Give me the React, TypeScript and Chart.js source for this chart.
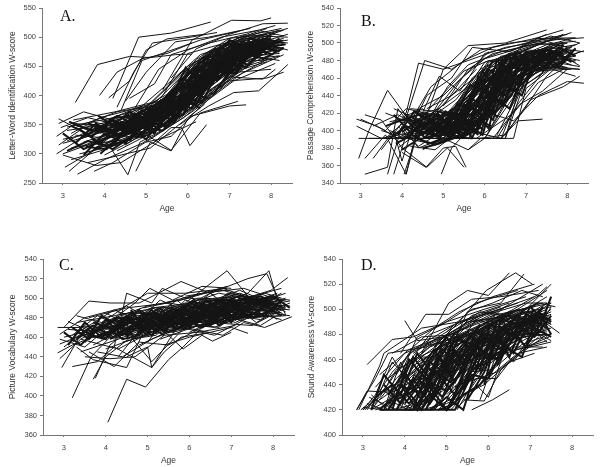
import React, { useEffect, useRef } from "react";
import { Chart, registerables } from "chart.js";

Chart.register(...registerables);

// each row is one child: age, score, age, score, ...
const letterWord: number[][] = [
  [3.3,388,3.83,453,4.6,467,5.1,465,5.7,470,6.1,471],
  [4.2,395,4.82,500,5.6,507,6.0,515,6.55,526],
  [3.88,400,4.3,440,4.9,463,5.5,472,6.1,490],
  [4.1,396,4.6,425,5.0,478,5.5,497,6.4,505],
  [4.3,380,4.7,440,5.15,490,5.9,498,6.7,508],
  [4.15,310,4.56,264,4.85,320,5.5,345,6.2,400],
  [4.75,270,5.1,320,5.6,305,6.0,360,6.9,420],
  [5.2,320,5.6,345,5.85,345,6.05,314,6.45,350],
  [5.0,320,5.6,330,6.1,365,7.0,382,7.4,384],
  [5.8,350,6.5,382,7.1,405,7.7,408,8.4,453],
  [5.4,410,6.1,495,7.05,529,7.75,528,8.0,533],
  [5.6,430,6.2,480,7.0,505,7.8,523,8.4,524],
  [2.85,300,3.4,325,4.0,340,4.9,352,5.8,385,6.8,440],
  [2.9,315,3.5,345,4.4,360,5.4,378,6.3,430,7.3,478],
  [2.85,330,3.3,352,4.2,345,5.2,368,6.2,440,7.2,488],
  [2.9,352,3.5,372,4.1,360,5.0,380,6.0,450,7.0,490],
  [2.9,360,3.3,345,4.3,372,5.3,385,6.3,462,7.3,498],
  [3.0,300,3.7,318,4.7,345,5.7,378,6.7,440,7.7,478],
  [3.05,277,3.6,300,4.5,335,5.5,362,6.5,420,7.5,462],
  [3.15,270,3.8,310,4.8,340,5.8,372,6.8,430,7.8,470],
  [3.35,265,4.0,290,4.9,318,5.9,362,6.9,422,7.9,462],
  [3.0,325,3.9,338,4.9,362,5.9,398,6.9,462,7.9,490],
  [3.1,340,4.0,350,5.0,375,6.0,425,7.0,478,8.0,500],
  [3.2,310,4.2,322,5.2,352,6.2,396,7.2,452,8.2,482],
  [3.25,358,4.25,372,5.25,390,6.25,462,7.25,500,8.25,515],
  [3.4,300,4.3,315,5.3,345,6.3,385,7.3,438,8.3,470],
  [3.5,320,4.4,342,5.4,360,6.4,418,7.4,472,8.3,495],
  [3.0,318,3.6,330,4.6,350,5.6,388,6.6,455,7.6,492],
  [3.1,346,3.7,355,4.6,366,5.5,402,6.5,470,7.5,505],
  [3.3,332,3.9,328,4.8,358,5.7,395,6.7,458,7.6,488],
  [3.2,290,3.9,305,4.8,332,5.8,385,6.8,445,7.8,482],
  [3.6,340,4.5,355,5.5,385,6.5,442,7.5,482,8.2,490],
  [3.7,305,4.6,330,5.6,352,6.6,408,7.6,458,8.3,480],
  [3.75,270,4.2,285,5.1,325,6.1,372,7.1,425,8.1,455],
  [3.8,325,4.7,348,5.7,392,6.7,462,7.7,490,8.4,505],
  [3.9,345,4.8,362,5.8,412,6.8,472,7.8,500,8.3,512],
  [4.0,355,4.9,372,5.9,440,6.9,490,7.9,515],
  [4.0,298,5.0,335,6.0,375,7.0,425,7.9,430,8.3,440],
  [4.1,328,5.1,356,6.1,405,7.1,460,8.1,485],
  [4.2,340,5.2,365,6.2,425,7.2,472,8.2,488],
  [4.3,305,5.3,342,6.3,398,7.3,448,8.2,468],
  [4.4,350,5.4,385,6.4,452,7.4,495,8.4,515],
  [4.5,315,5.5,362,6.5,422,7.5,470,8.1,478],
  [4.5,360,5.5,395,6.5,475,7.5,508,8.1,520],
  [4.6,330,5.6,375,6.6,440,7.6,480,8.2,492],
  [4.7,345,5.7,405,6.7,470,7.7,495,8.0,498],
  [4.7,375,5.3,445,6.0,478,6.8,500,7.7,512],
  [4.4,375,4.9,460,5.5,475,6.3,495,7.2,510],
  [4.5,390,5.0,440,5.7,492,6.5,500,7.5,515],
  [4.6,395,5.2,420,5.6,470,6.4,488,7.4,505],
  [4.8,365,5.4,400,6.0,472,6.9,490,7.9,505],
  [4.9,352,5.5,390,6.2,455,7.2,485,8.0,495],
  [5.0,345,5.8,385,6.5,445,7.3,478,8.0,482],
  [5.1,360,5.9,420,6.6,478,7.4,498,8.4,490],
  [5.2,372,6.0,435,6.7,485,7.5,492,8.3,490],
  [5.3,352,6.1,392,7.0,470,7.9,480],
  [5.4,382,6.2,462,7.0,498,7.9,505],
  [5.5,360,6.3,412,7.1,478,8.0,494],
  [5.5,345,6.4,392,7.2,440,8.0,445],
  [5.6,378,6.5,450,7.2,490,8.1,475],
  [5.7,365,6.6,428,7.4,462,8.2,468],
  [5.8,392,6.7,475,7.5,500,8.2,512],
  [5.9,380,6.7,440,7.6,478,8.3,482],
  [6.0,395,6.8,458,7.6,490,8.3,480],
  [6.1,412,6.9,480,7.7,502,8.4,500],
  [6.2,382,7.0,432,7.8,428,8.1,445],
  [6.3,420,7.1,470,7.8,488],
  [6.4,438,7.2,488,7.9,498],
  [3.0,298,3.8,280,4.4,285,5.3,325,6.2,355],
  [3.6,285,4.4,298,5.1,310,5.7,345,6.4,385],
  [3.4,312,4.1,330,4.8,342,5.6,306,6.3,370,7.2,390],
  [2.95,345,3.6,362,4.3,350,5.0,352,5.7,395,6.6,450],
  [3.1,322,3.8,345,4.4,340,5.2,362,5.9,420,6.8,468],
  [3.3,350,4.0,335,4.7,355,5.4,372,6.2,415,7.1,458],
  [3.5,330,4.2,352,4.9,348,5.6,368,6.4,440,7.3,485],
  [3.7,355,4.4,345,5.1,370,5.8,405,6.6,465,7.5,480],
  [3.8,312,4.5,322,5.2,362,5.9,388,6.7,448,7.6,470],
  [3.9,335,4.6,362,5.3,378,6.0,442,6.8,478,7.7,494],
  [3.6,300,4.2,332,4.9,328,5.7,358,6.5,405,7.4,452],
  [3.2,335,3.9,362,4.6,375,5.4,392,6.1,455,7.0,482],
  [4.0,318,4.7,340,5.4,355,6.1,398,6.9,452,7.8,478],
  [4.2,362,4.9,382,5.6,425,6.3,470,7.2,492,8.1,505],
  [4.1,345,4.8,378,5.5,372,6.2,432,7.0,462,7.9,485],
  [4.3,332,5.0,350,5.7,382,6.4,435,7.3,468,8.2,472],
  [4.4,322,5.1,345,5.8,402,6.5,458,7.4,482,8.3,498],
  [4.6,350,5.3,368,6.0,415,6.7,452,7.6,486,8.4,495],
  [4.8,338,5.5,378,6.2,408,6.9,468,7.8,478],
  [5.0,362,5.7,412,6.4,462,7.1,482,8.0,488],
  [5.2,340,5.9,402,6.6,435,7.3,458,8.1,462],
  [5.4,370,6.1,445,6.8,465,7.5,482,8.2,478],
  [5.6,395,6.3,442,7.0,485,7.7,492,8.4,478],
  [5.3,365,6.0,402,6.7,448,7.4,475,8.1,488],
  [5.1,350,5.8,378,6.5,432,7.2,465,7.9,470],
  [4.9,368,5.6,398,6.3,450,7.0,472,7.7,485],
  [5.7,405,6.4,470,7.1,492,7.8,510,8.3,502],
  [5.9,402,6.6,462,7.3,482,8.0,495],
  [6.0,375,6.6,412,7.3,445,7.9,458],
  [6.1,388,6.8,435,7.5,468,8.2,460],
  // second group: shorter, crossing rows
  [3.0,335,3.5,308,4.0,325,4.5,338,5.0,330],
  [3.1,305,3.6,322,4.1,312,4.6,348,5.1,342],
  [3.2,348,3.7,330,4.2,358,4.7,340,5.2,372],
  [3.3,318,3.8,352,4.3,328,4.8,365,5.3,355],
  [3.4,342,3.9,318,4.4,355,4.9,335,5.4,368],
  [3.5,298,4.0,335,4.5,318,5.0,358,5.5,345],
  [3.6,352,4.1,342,4.6,372,5.1,350,5.6,382],
  [3.7,325,4.2,308,4.7,332,5.2,338,5.7,368],
  [3.8,340,4.3,365,4.8,348,5.3,375,5.8,362],
  [3.9,300,4.4,332,4.9,345,5.4,340,5.9,378],
  [4.0,332,4.5,348,5.0,325,5.5,368,6.0,388],
  [4.1,360,4.6,338,5.1,378,5.6,358,6.1,395],
  [4.2,315,4.7,358,5.2,342,5.7,375,6.2,410],
  [4.3,348,4.8,328,5.3,365,5.8,395,6.3,378],
  [4.4,338,4.9,375,5.4,350,5.9,368,6.4,428],
  [4.5,365,5.0,345,5.5,382,6.0,405,6.5,395],
  [4.6,322,5.1,368,5.6,360,6.1,418,6.6,425],
  [4.7,352,5.2,335,5.7,398,6.2,385,6.7,442],
  [4.8,372,5.3,358,5.8,380,6.3,445,6.8,432],
  [4.9,335,5.4,378,5.9,392,6.4,408,6.9,458],
  [5.0,378,5.5,372,6.0,440,6.5,430,7.0,475],
  [5.1,342,5.6,392,6.1,378,6.6,452,7.1,445],
  [5.2,365,5.7,378,6.2,448,6.7,438,7.2,482],
  [5.3,385,5.8,420,6.3,402,6.8,482,7.3,462],
  [5.4,355,5.9,410,6.4,442,6.9,445,7.4,490],
  [5.5,392,6.0,385,6.5,462,7.0,455,7.5,472],
  [5.6,368,6.1,432,6.6,420,7.1,488,7.6,478],
  [5.7,385,6.2,402,6.7,478,7.2,462,7.7,498],
  [5.8,405,6.3,458,6.8,448,7.3,492,7.8,480],
  [5.9,372,6.4,425,6.9,472,7.4,478,7.9,492],
  [6.0,420,6.5,468,7.0,445,7.5,498,8.0,478],
  [6.1,395,6.6,448,7.1,492,7.6,468,8.1,492],
  [6.2,445,6.7,425,7.2,470,7.7,485,8.2,475],
  [6.3,405,6.8,465,7.3,458,7.8,498,8.3,490],
  [6.4,418,6.9,438,7.4,488,7.9,472],
  [6.5,455,7.0,495,7.5,478,8.0,505],
  [6.6,400,7.1,452,7.6,495,8.1,488],
  [6.7,472,7.2,458,7.7,472,8.2,498],
  [6.8,442,7.3,485,7.8,462,8.3,482],
  [6.9,462,7.4,448,7.9,490],
  [3.15,355,3.65,340,4.15,338,4.65,360,5.15,360],
  [3.45,328,3.95,348,4.45,330,4.95,355,5.45,350],
  [3.55,312,4.05,308,4.55,345,5.05,368,5.55,372],
  [3.75,345,4.25,335,4.75,368,5.25,345,5.75,390],
  [3.85,365,4.35,342,4.85,358,5.35,392,5.85,372],
  [4.05,310,4.55,325,5.05,352,5.55,350,6.05,402],
  [4.25,348,4.75,355,5.25,372,5.75,412,6.25,418],
  [4.45,342,4.95,362,5.45,392,5.95,385,6.45,435],
  [4.65,362,5.15,382,5.65,370,6.15,440,6.65,462],
  [4.85,355,5.35,368,5.85,428,6.35,420,6.85,452],
  [5.05,348,5.55,385,6.05,395,6.55,472,7.05,462],
  [5.25,378,5.75,365,6.25,430,6.75,428,7.25,478],
  [5.45,372,5.95,448,6.45,412,6.95,478,7.45,468],
  [5.65,352,6.15,408,6.65,448,7.15,438,7.65,485],
  [5.85,398,6.35,388,6.85,462,7.35,472,7.85,488],
  [6.05,412,6.55,442,7.05,438,7.55,482,8.05,470],
  [6.25,392,6.75,455,7.25,488,7.75,478,8.25,495],
  [6.45,432,6.95,468,7.45,452,7.95,485],
  [6.65,458,7.15,442,7.65,490,8.15,482],
  [6.85,425,7.35,465,7.85,482,8.35,488],
];

const passage: number[][] = [
  [2.9,413,3.4,405,3.9,391,4.6,391,5.4,400,6.2,440],
  [2.9,405,3.5,391,4.4,400,5.4,391,6.2,420,6.9,460],
  [3.0,413,3.6,400,4.1,425,5.0,415,6.0,455,7.0,480],
  [2.95,368,3.2,400,3.65,446,4.2,410,4.8,420,5.8,470],
  [3.1,418,3.5,412,4.0,380,4.6,358,5.1,380,5.5,358],
  [3.1,350,3.65,358,3.9,425,4.3,400,5.2,420,6.1,480],
  [3.1,368,3.6,395,4.1,350,4.4,410,5.4,391,6.4,450],
  [2.95,391,3.5,391,4.2,391,5.0,391,6.0,391,6.7,391,7.0,448,8.0,485],
  [3.2,391,4.0,391,5.0,391,5.9,391,6.5,391,6.95,470,7.9,490],
  [3.4,391,4.3,391,5.2,391,6.3,391,6.8,430,7.6,478],
  [3.3,368,3.8,400,4.0,365,4.4,425,5.0,440,6.1,490],
  [3.65,350,4.0,405,4.4,380,5.0,391,5.9,430,6.9,482],
  [3.8,350,4.1,395,4.6,410,5.3,400,6.2,462,7.2,492],
  [4.05,350,4.4,400,5.0,391,5.6,378,6.0,391,6.7,445],
  [4.1,350,4.5,420,5.4,415,6.3,475,7.2,505,8.2,506],
  [4.0,375,4.58,358,5.0,380,5.3,382,5.55,358],
  [4.95,350,5.2,380,5.6,400,6.4,391,6.9,450,7.9,480],
  [4.1,420,4.4,477,5.0,470,5.6,497,6.5,500,7.5,515],
  [4.0,400,4.55,480,5.2,470,5.9,492,6.6,500,7.6,505],
  [4.2,410,4.7,450,5.5,480,6.2,495,7.2,505,7.9,515],
  [4.1,391,4.6,440,5.2,460,5.7,495,6.6,490,7.5,510],
  [4.3,400,4.9,462,5.4,445,6.0,488,7.0,500,8.0,510],
  [4.5,405,5.0,470,5.6,480,6.5,495,7.5,503,8.4,506],
  [4.4,391,5.1,450,5.6,475,6.4,490,7.3,500,8.1,495],
  [5.2,391,5.9,391,6.4,391,6.8,411,7.4,413],
  [5.5,391,6.1,420,6.7,411,7.3,440,8.0,456,8.4,454],
  [5.6,378,5.9,391,6.5,395,7.1,435,7.9,450,8.3,462],
  [3.6,391,4.3,420,5.0,415,5.8,442,6.6,470,7.6,490],
  [3.5,378,4.1,415,4.9,400,5.7,430,6.7,478,7.7,495],
  [3.8,425,4.5,410,5.3,391,6.1,450,7.1,480,8.1,490],
  [3.7,400,4.2,391,5.1,410,6.0,425,7.0,470,7.9,482],
  [3.9,380,4.6,405,5.6,420,6.6,465,7.5,478,8.4,491],
  [4.0,395,4.8,400,5.8,440,6.8,475,7.8,498],
  [4.1,412,5.0,405,6.0,470,7.0,485,8.0,500],
  [4.2,425,5.2,420,6.2,478,7.2,490,8.2,498],
  [4.3,408,5.3,410,6.3,452,7.3,475,8.3,470],
  [4.4,400,5.4,430,6.4,480,7.4,500,8.1,512],
  [4.5,391,5.5,420,6.5,472,7.5,488,8.3,480],
  [4.6,415,5.6,450,6.6,482,7.6,495,8.4,490],
  [4.7,398,5.7,405,6.7,458,7.7,478,8.3,473],
  [4.8,391,5.8,415,6.8,470,7.8,482],
  [4.9,410,5.9,462,6.9,490,7.9,510],
  [5.0,391,6.0,440,7.0,478,8.0,492],
  [5.1,400,6.1,430,7.1,468,8.1,470],
  [5.2,418,6.2,470,7.2,485,8.2,480],
  [5.3,391,6.3,425,7.3,472,8.3,470],
  [5.4,405,6.4,460,7.4,482,8.3,500],
  [5.5,415,6.5,478,7.5,498,8.0,500],
  [5.6,391,6.6,450,7.5,472,8.2,462],
  [5.7,410,6.7,472,7.6,490,8.0,480],
  [5.8,391,6.7,420,7.3,455,7.9,470],
  [5.9,425,6.8,480,7.7,500,8.1,505],
  [6.0,391,6.8,445,7.5,470,8.1,482],
  [6.1,400,6.9,465,7.8,490,8.2,492],
  [6.2,391,6.85,430,7.4,445,8.0,470],
  [6.3,395,6.95,455,7.7,485,8.2,478],
  [6.4,391,6.9,420,7.5,462,8.1,488],
  [6.5,391,7.0,460,7.8,478,8.3,490],
  [3.5,400,4.1,391,4.7,385,5.4,395,6.0,435,6.9,472],
  [3.9,405,4.4,382,5.0,400,5.7,410,6.3,470,7.1,482],
  [4.0,415,4.5,425,5.1,391,5.8,430,6.5,480,7.3,490],
  [4.2,382,4.8,378,5.4,400,6.1,445,6.7,482,7.5,495],
  [4.3,395,4.9,415,5.5,395,6.2,440,6.9,475,7.7,488],
  [4.4,422,5.0,410,5.6,435,6.3,462,7.0,488,7.9,500],
  [4.5,378,5.0,391,5.7,425,6.4,470,7.1,478,8.0,488],
  [4.6,425,5.2,440,5.8,462,6.5,485,7.3,498,8.2,502],
  [4.7,405,5.3,400,5.9,450,6.6,475,7.4,480,8.1,495],
  [4.8,422,5.4,458,6.0,482,6.7,492,7.6,508,8.3,500],
  [4.9,400,5.5,402,6.1,418,6.8,468,7.6,482],
  [5.0,428,5.6,470,6.2,488,6.9,495,7.8,505],
  [5.1,412,5.7,440,6.3,475,7.0,480,7.8,490],
  [5.3,400,5.9,455,6.5,462,7.2,480,8.0,472],
  [5.5,430,6.1,478,6.7,490,7.5,502,8.0,495],
  [5.7,400,6.3,442,6.9,472,7.7,492],
  [4.1,405,4.6,402,5.2,412,5.8,420,6.4,462,7.2,475],
  [4.3,415,4.8,405,5.4,420,6.0,462,6.7,478,7.5,485],
  [4.5,398,5.1,418,5.7,448,6.3,480,7.0,492,7.8,490],
  [3.7,410,4.2,415,4.9,425,5.6,405,6.3,445,7.1,470],
  [3.3,405,3.9,418,4.6,400,5.3,428,6.0,478,6.9,490],
  [3.6,420,4.4,405,5.2,402,5.9,410,6.6,440,7.4,472],
  [4.0,391,4.7,415,5.3,435,5.9,470,6.6,488,7.4,492],
  [4.2,400,4.8,432,5.5,468,6.1,480,6.9,482,7.7,498],
  [3.8,391,4.4,395,5.0,405,5.7,460,6.4,485,7.2,488],
  [4.6,391,5.2,398,5.8,402,6.4,435,7.0,470,7.8,472],
  [4.9,391,5.4,412,6.0,425,6.6,478,7.3,480,8.0,490],
  [5.2,405,5.8,400,6.4,480,7.1,485,7.9,478],
  [5.4,391,6.0,405,6.6,458,7.3,488,8.1,475],
  [5.6,420,6.2,458,6.8,462,7.6,480,8.2,485],
  [5.8,405,6.5,438,7.1,475,7.8,488,8.3,474],
  // second group: shorter, crossing rows
  [4.0,398,4.4,412,4.8,395,5.2,408,5.6,398],
  [4.05,420,4.45,400,4.85,418,5.25,395,5.65,425],
  [4.1,391,4.5,408,4.9,392,5.3,418,5.7,402],
  [4.15,410,4.55,392,4.95,410,5.35,400,5.75,440],
  [4.2,395,4.6,418,5.0,400,5.4,392,5.8,412],
  [4.25,415,4.65,398,5.05,422,5.45,410,5.85,395],
  [4.3,391,4.7,402,5.1,395,5.5,425,5.9,450],
  [4.35,408,4.75,420,5.15,405,5.55,395,5.95,420],
  [4.4,398,4.8,395,5.2,415,5.6,412,6.0,400],
  [4.45,418,4.85,408,5.25,398,5.65,438,6.05,462],
  [4.5,402,4.9,422,5.3,412,5.7,392,6.1,432],
  [4.55,391,4.95,398,5.35,425,5.75,415,6.15,405],
  [4.6,412,5.0,395,5.4,405,5.8,448,6.2,480],
  [4.65,400,5.05,412,5.45,392,5.85,402,6.25,442],
  [4.7,392,5.1,405,5.5,418,5.9,440,6.3,415],
  [4.75,410,5.15,392,5.55,408,5.95,395,6.35,460],
  [4.8,400,5.2,420,5.6,398,6.0,455,6.4,470],
  [4.85,420,5.25,402,5.65,428,6.05,412,6.45,482],
  [4.9,395,5.3,398,5.7,415,6.1,470,6.5,452],
  [4.95,408,5.35,418,5.75,405,6.15,430,6.55,475],
  [5.0,400,5.4,410,5.8,455,6.2,448,6.6,488],
  [5.05,415,5.45,392,5.85,432,6.25,465,6.65,468],
  [5.1,392,5.5,430,5.9,420,6.3,480,6.7,462],
  [5.15,420,5.55,418,5.95,468,6.35,445,6.75,490],
  [5.2,398,5.6,405,6.0,435,6.4,462,6.8,482],
  [5.25,412,5.65,452,6.05,445,6.45,428,6.85,475],
  [5.3,430,5.7,425,6.1,402,6.5,485,6.9,478],
  [5.35,392,5.75,440,6.15,462,6.55,450,6.95,488],
  [5.4,418,5.8,398,6.2,432,6.6,472,7.0,470],
  [5.45,405,5.85,462,6.25,420,6.65,440,7.05,485],
  [5.5,398,5.9,410,6.3,455,6.7,485,7.1,472],
  [5.6,440,6.0,425,6.4,478,6.8,452,7.2,490],
  [5.7,418,6.1,455,6.5,440,6.9,478,7.3,482],
  [5.8,430,6.2,412,6.6,468,7.0,490,7.4,478],
  [5.9,395,6.3,470,6.7,445,7.1,462,7.5,492],
  [6.0,448,6.4,432,6.8,490,7.2,475,7.6,488],
  [6.1,415,6.5,458,6.9,470,7.3,492,7.7,480],
  [6.2,440,6.6,425,7.0,468,7.4,478,7.8,495],
  [6.3,462,6.7,478,7.1,482,7.5,480,7.9,492],
  [6.4,428,6.8,462,7.2,472,7.6,492,8.0,482],
  [6.5,452,6.9,440,7.3,490,7.7,472,8.1,490],
  [6.6,470,7.0,485,7.4,468,7.8,495,8.2,485],
  [6.7,438,7.1,478,7.5,492,7.9,485],
  [6.8,460,7.2,468,7.6,478,8.0,495],
  [6.9,452,7.3,482,7.7,490,8.1,478],
  [7.0,475,7.4,490,7.8,472,8.2,494],
  [7.1,482,7.5,470,7.9,498],
  [3.6,405,4.0,412,4.4,418,4.8,405],
  [3.7,391,4.1,405,4.5,395,4.9,412],
  [3.8,418,4.2,398,4.6,408,5.0,418],
  [3.9,395,4.3,422,4.7,412,5.1,400],
  [3.85,385,4.25,395,4.65,385,5.05,392],
  [4.0,378,4.4,390,4.8,384,5.2,392],
  [4.5,380,4.9,385,5.3,392,5.7,391],
];

const vocabulary: number[][] = [
  [3.2,398,3.65,440,4.1,460,5.0,470,6.0,480,6.9,490],
  [4.05,373,4.5,417,4.95,409,5.5,437,5.85,450,6.3,470,7.1,480],
  [2.85,470,3.4,470,4.2,475,5.1,490,6.1,495,7.1,500],
  [2.9,463,3.5,480,4.4,490,5.0,505,5.9,505,6.9,510],
  [2.9,453,3.3,460,4.1,470,5.2,480,6.2,480,7.2,495],
  [2.85,444,3.2,452,4.0,465,5.0,462,5.9,488,6.9,498],
  [2.9,438,3.4,458,4.3,448,5.3,470,6.3,482,7.3,490],
  [2.95,429,3.5,470,4.4,462,5.4,482,6.4,490,7.4,505],
  [3.2,430,3.8,435,4.2,450,5.1,429,5.7,470,6.7,480],
  [3.0,470,3.6,497,4.1,495,4.8,495,5.8,517,6.6,503],
  [3.3,450,3.7,437,4.5,429,4.9,465,5.9,470,6.7,490],
  [3.7,417,4.0,440,4.6,460,5.1,435,6.0,475,7.0,480],
  [3.75,418,4.1,452,4.9,480,5.9,495,6.9,528,7.4,502],
  [4.2,450,4.5,505,5.1,495,5.35,510,5.9,500,6.9,512],
  [3.9,470,4.7,495,5.05,510,5.6,498,6.3,512,7.0,510],
  [4.5,440,5.0,450,5.1,429,5.4,445,5.8,460,6.5,465],
  [5.3,470,5.85,448,6.3,462,6.55,456,7.0,465],
  [5.4,452,6.0,460,7.0,470,7.4,464],
  [5.9,470,6.8,462,7.3,475,7.8,470,8.45,481],
  [6.0,480,6.9,497,7.4,505,7.9,528,8.1,498],
  [5.6,485,6.5,505,7.4,520,7.85,525,8.3,483],
  [5.8,490,6.6,500,7.5,502,7.95,508,8.35,521],
  [3.0,460,3.9,470,4.9,478,5.9,488,6.9,495,7.9,495],
  [3.1,468,4.0,465,5.0,485,6.0,480,7.0,502,8.0,492],
  [3.2,455,4.1,478,5.1,470,6.1,490,7.1,482,8.1,498],
  [3.3,475,4.2,482,5.2,490,6.2,492,7.2,508,8.2,490],
  [3.4,445,4.3,458,5.3,475,6.3,478,7.3,490,8.3,505],
  [3.5,462,4.4,475,5.4,468,6.4,500,7.4,495,8.4,492],
  [3.6,480,4.5,490,5.5,495,6.5,488,7.5,502,8.4,498],
  [3.7,452,4.6,472,5.6,482,6.6,482,7.6,490,8.2,495],
  [3.8,470,4.7,468,5.7,490,6.7,505,7.7,498,8.3,486],
  [3.9,458,4.8,480,5.8,478,6.8,490,7.8,505,8.2,500],
  [4.0,448,4.9,462,5.9,480,6.9,475,7.9,490,8.4,488],
  [4.1,478,5.0,492,6.0,500,7.0,495,8.0,498],
  [4.2,462,5.1,470,6.1,478,7.1,488,8.1,488],
  [4.3,485,5.2,480,6.2,500,7.2,498,8.2,510],
  [4.4,455,5.3,465,6.3,472,7.3,480,8.3,482],
  [4.5,470,5.4,490,6.4,485,7.4,490,8.4,497],
  [4.6,480,5.5,478,6.5,495,7.5,485,8.1,492],
  [4.7,462,5.6,475,6.6,470,7.6,488,8.2,485],
  [4.8,452,5.7,470,6.7,485,7.7,478,8.2,492],
  [4.9,490,5.8,498,6.8,510,7.8,495,8.3,498],
  [5.0,472,5.9,468,6.9,480,7.9,485,8.4,482],
  [5.1,462,6.0,490,7.0,492,8.0,490],
  [5.2,482,6.1,480,7.1,498,8.1,495],
  [5.3,458,6.2,472,7.2,480,8.2,482],
  [5.4,495,6.3,505,7.3,510,8.0,500],
  [5.5,478,6.4,482,7.4,495,8.1,490],
  [5.6,465,6.5,475,7.5,472,8.3,490],
  [5.7,488,6.6,495,7.5,490,8.2,505],
  [5.8,475,6.7,470,7.6,500,8.3,482],
  [5.9,502,6.8,508,7.6,498,8.0,492],
  [6.0,465,6.8,482,7.7,472,8.0,480],
  [6.2,470,7.0,478,7.8,488,8.1,478],
  [6.4,495,7.2,505,7.9,495,8.3,500],
  [2.9,458,3.5,450,4.0,468,4.8,472,5.6,480,6.5,490],
  [3.0,450,3.6,470,4.2,458,4.9,478,5.7,485,6.6,478],
  [3.1,476,3.7,465,4.3,480,5.0,470,5.8,482,6.7,495],
  [3.2,462,3.8,482,4.4,470,5.1,490,5.9,475,6.8,488],
  [3.3,482,3.9,475,4.5,492,5.2,475,6.0,495,6.9,482],
  [3.4,458,4.0,472,4.6,465,5.3,488,6.1,482,7.0,505],
  [3.5,440,4.1,438,4.7,440,5.4,462,6.2,465,7.1,472],
  [3.6,445,4.2,430,4.8,455,5.5,452,6.3,470,7.2,485],
  [3.6,472,4.2,488,4.9,475,5.6,492,6.4,478,7.3,498],
  [3.7,460,4.3,460,5.0,482,5.7,475,6.5,492,7.4,480],
  [3.8,445,4.4,440,5.1,458,5.8,470,6.6,462,7.5,482],
  [3.9,475,4.5,478,5.2,468,5.9,498,6.7,488,7.6,480],
  [4.0,485,4.6,470,5.3,498,6.0,485,6.8,498,7.7,492],
  [4.1,465,4.7,485,5.4,480,6.1,470,6.9,505,7.8,498],
  [4.2,472,4.8,468,5.5,485,6.2,495,7.0,488,7.9,482],
  [4.3,440,4.9,472,5.6,465,6.3,488,7.1,475,8.0,495],
  [4.4,482,5.0,475,5.7,498,6.4,472,7.2,492,8.1,505],
  [4.6,458,5.2,462,5.9,488,6.6,498,7.3,488,8.2,478],
  [4.8,478,5.4,472,6.1,492,6.8,478,7.5,495,8.3,490],
  [5.0,455,5.6,488,6.3,480,7.0,490,7.7,482,8.4,495],
  [5.2,490,5.8,482,6.5,505,7.2,482,7.9,500],
  [5.4,470,6.0,472,6.7,492,7.4,500,8.1,485],
  [5.6,480,6.2,498,6.9,498,7.6,475,8.3,492],
  [5.8,468,6.4,480,7.1,502,7.8,490],
  [6.0,478,6.6,490,7.3,478,8.0,496],
  [6.2,488,6.8,500,7.5,490,8.2,488],
  // second group: shorter, crossing rows
  [3.0,465,3.4,452,3.8,468,4.2,478,4.6,462],
  [3.1,452,3.5,475,3.9,460,4.3,470,4.7,482],
  [3.2,470,3.6,458,4.0,478,4.4,462,4.8,475],
  [3.3,458,3.7,472,4.1,462,4.5,482,4.9,468],
  [3.4,468,3.8,460,4.2,468,4.6,475,5.0,462],
  [3.5,455,3.9,482,4.3,472,4.7,460,5.1,482],
  [3.6,462,4.0,458,4.4,480,4.8,470,5.2,472],
  [3.7,475,4.1,470,4.5,462,4.9,485,5.3,480],
  [3.8,462,4.2,465,4.6,485,5.0,472,5.4,462],
  [3.9,468,4.3,480,4.7,475,5.1,462,5.5,488],
  [4.0,472,4.4,458,4.8,462,5.2,485,5.6,475],
  [4.1,458,4.5,468,4.9,470,5.3,478,5.7,468],
  [4.2,480,4.6,478,5.0,480,5.4,465,5.8,490],
  [4.3,465,4.7,472,5.1,488,5.5,470,5.9,482],
  [4.4,475,4.8,488,5.2,465,5.6,482,6.0,472],
  [4.5,460,4.9,478,5.3,470,5.7,488,6.1,480],
  [4.6,488,5.0,465,5.4,485,5.8,472,6.2,488],
  [4.7,470,5.1,480,5.5,475,5.9,490,6.3,475],
  [4.8,465,5.2,472,5.6,490,6.0,470,6.4,492],
  [4.9,480,5.3,490,5.7,472,6.1,485,6.5,482],
  [5.0,468,5.4,475,5.8,485,6.2,478,6.6,495],
  [5.1,478,5.5,465,5.9,472,6.3,495,6.7,478],
  [5.2,472,5.6,482,6.0,495,6.4,488,6.8,498],
  [5.3,485,5.7,468,6.1,478,6.5,472,6.9,490],
  [5.4,465,5.8,490,6.2,482,6.6,492,7.0,482],
  [5.5,488,5.9,480,6.3,470,6.7,482,7.1,498],
  [5.6,472,6.0,478,6.4,498,6.8,488,7.2,478],
  [5.7,482,6.1,498,6.5,478,6.9,495,7.3,492],
  [5.8,480,6.2,475,6.6,488,7.0,475,7.4,502],
  [5.9,470,6.3,488,6.7,498,7.1,490,7.5,480],
  [6.0,492,6.4,475,6.8,478,7.2,500,7.6,495],
  [6.1,478,6.5,492,6.9,488,7.3,482,7.7,485],
  [6.2,482,6.6,480,7.0,500,7.4,488,7.8,500],
  [6.3,492,6.7,472,7.1,484,7.5,498,7.9,490],
  [6.4,475,6.8,495,7.2,490,7.6,482,8.0,488],
  [6.5,485,6.9,482,7.3,500,7.7,495,8.1,500],
  [6.6,478,7.0,498,7.4,480,7.8,492,8.2,482],
  [6.7,490,7.1,478,7.5,496,7.9,500],
  [6.8,475,7.2,488,7.6,488,8.0,486],
  [6.9,485,7.3,495,7.7,502,8.1,492],
  [7.0,492,7.4,480,7.8,482,8.2,498],
  [7.2,482,7.6,498,8.0,502,8.4,490],
  [7.4,498,7.8,495,8.2,492],
];

const soundAwareness: number[][] = [
  [3.1,456,3.7,476,4.2,478,5.0,490,5.9,500,6.9,510],
  [4.0,491,4.3,475,4.9,478,5.8,495,6.7,505],
  [3.9,465,4.5,496,5.05,496,5.6,508,6.3,510,7.2,515],
  [4.4,465,5.05,505,5.5,515,6.0,511,6.5,529],
  [4.7,470,5.3,490,5.95,515,6.65,529,7.05,520],
  [5.0,482,5.6,500,6.3,505,6.85,528],
  [5.6,420,6.1,428,6.5,436],
  [5.25,420,5.7,445,6.2,445,6.5,458,7.1,465],
  [5.4,428,5.9,427,6.3,452,6.9,468,7.4,480],
  [5.1,420,5.6,438,6.15,465,7.0,470,7.5,474],
  [2.85,420,3.1,435,3.7,434,4.3,445,5.0,460],
  [2.85,420,3.3,445,3.6,465,4.5,470,5.4,480],
  [2.9,420,3.4,455,3.5,465,4.4,485,5.3,490,6.3,502],
  [2.95,420,3.5,435,4.0,445,5.0,470,6.0,480,7.0,490],
  [3.0,422,3.5,420,4.2,460,5.2,475,6.2,490,7.2,505],
  [3.05,420,3.6,440,4.1,465,5.1,480,6.1,495,7.1,502],
  [3.1,420,3.7,450,4.3,470,5.3,490,6.3,500,7.3,520],
  [3.15,430,3.8,420,4.4,450,5.4,465,6.4,485,7.4,505],
  [3.2,420,3.8,445,4.5,468,5.5,490,6.5,495,7.5,502],
  [3.3,420,3.9,430,4.6,450,5.6,475,6.6,490,7.4,488],
  [3.3,438,4.0,465,4.7,475,5.7,488,6.7,500,7.5,492],
  [3.4,420,4.0,420,4.8,445,5.8,470,6.8,478,7.5,480],
  [3.4,448,4.1,468,4.9,478,5.9,495,6.9,505,7.4,505],
  [3.5,420,4.1,442,5.0,465,6.0,488,7.0,498,7.7,481],
  [3.5,435,4.2,420,5.0,440,6.0,465,7.0,480,7.45,480],
  [3.6,420,4.2,455,5.1,475,6.1,485,7.1,492,7.5,498],
  [3.6,425,4.3,440,5.2,458,6.2,478,7.2,485],
  [3.7,420,4.3,425,5.2,470,6.2,490,7.2,500],
  [3.7,465,4.4,478,5.3,480,6.3,495,7.3,505],
  [3.8,420,4.4,445,5.3,452,6.3,475,7.3,492],
  [3.8,438,4.5,458,5.4,478,6.4,490,7.4,495],
  [3.9,420,4.5,425,5.4,462,6.4,480,7.4,488],
  [3.9,450,4.6,470,5.5,482,6.5,498,7.5,505],
  [4.0,420,4.6,440,5.5,470,6.5,485,7.5,490],
  [4.0,435,4.7,462,5.6,490,6.6,495,7.4,480],
  [4.1,420,4.7,420,5.6,450,6.6,478,7.3,482],
  [4.1,448,4.8,470,5.7,485,6.7,500,7.4,515],
  [4.2,420,4.8,452,5.7,468,6.7,490,7.5,475],
  [4.2,465,4.9,480,5.8,498,6.8,492,7.4,500],
  [4.3,420,4.9,435,5.8,460,6.8,482,7.5,485],
  [4.3,440,5.0,468,5.9,482,6.9,500,7.5,520],
  [4.4,420,5.0,425,5.9,440,6.9,470,7.45,478],
  [4.4,450,5.1,472,6.0,490,7.0,495,7.5,492],
  [4.5,420,5.1,448,6.0,470,7.0,485,7.4,474],
  [4.5,435,5.2,465,6.1,478,7.1,490,7.5,500],
  [4.6,420,5.2,430,6.1,462,7.1,480,7.5,502],
  [4.6,458,5.3,475,6.2,492,7.2,505,7.6,502],
  [4.7,420,5.3,440,6.2,450,7.2,478],
  [4.7,445,5.4,470,6.3,488,7.3,490],
  [4.8,425,5.4,455,6.3,480,7.3,495],
  [4.8,420,5.5,445,6.4,465,7.4,475],
  [4.9,420,5.5,465,6.4,478,7.4,492],
  [4.9,440,5.6,482,6.5,492,7.4,510],
  [5.0,420,5.6,460,6.5,480,7.4,482],
  [5.0,432,5.7,455,6.6,470,7.3,470],
  [5.1,445,5.7,478,6.6,488,7.4,498],
  [5.2,420,5.8,440,6.7,465,7.4,470],
  [5.3,435,5.9,465,6.7,482,7.45,490],
  [5.4,445,6.0,472,6.8,490,7.5,505],
  [5.5,450,6.1,452,6.8,472,7.3,478],
  [5.6,458,6.2,485,6.9,488,7.4,495],
  [5.7,440,6.0,430,6.5,478,7.2,482],
  [5.8,428,6.2,465,6.9,480,7.45,484],
  [5.9,460,6.3,470,7.0,498,7.5,488],
  [3.2,420,3.6,428,4.1,420,4.9,455,5.8,472,6.8,490],
  [3.4,428,3.9,440,4.4,432,5.1,455,6.0,482,7.0,502],
  [3.6,445,4.1,458,4.6,480,5.2,488,6.1,498,7.1,510],
  [3.7,430,4.2,448,4.7,440,5.3,468,6.2,482,7.2,492],
  [3.9,420,4.3,455,4.8,470,5.4,485,6.3,478,7.3,500],
  [4.0,445,4.4,462,4.9,462,5.5,478,6.4,495,7.3,485],
  [4.1,432,4.5,450,5.0,480,5.6,470,6.5,488,7.4,492],
  [4.2,428,4.6,448,5.1,462,5.7,492,6.6,482,7.4,505],
  [4.3,420,4.7,438,5.2,478,5.8,482,6.7,475,7.45,495],
  [4.4,438,4.8,475,5.3,465,5.9,475,6.8,498,7.5,488],
  [4.5,445,4.9,460,5.4,488,6.0,498,6.9,492,7.4,497],
  [4.6,430,5.0,452,5.5,472,6.1,495,7.0,475,7.4,490],
  [4.7,420,5.1,458,5.6,478,6.2,472,7.1,492,7.5,496],
  [3.0,420,3.4,430,3.8,452,4.4,462,5.2,482,6.2,498],
  [3.2,432,3.6,420,4.0,455,4.6,472,5.4,475,6.4,502],
  [3.5,420,3.9,448,4.3,478,4.9,488,5.7,505,6.7,515],
  [3.8,448,4.2,470,4.7,485,5.3,498,6.1,510,7.1,520],
  [3.3,425,3.7,458,4.2,440,4.8,465,5.6,495,6.5,505],
  [4.8,440,5.2,452,5.7,460,6.3,462,7.0,485,7.4,480],
  [5.2,448,5.6,470,6.1,475,6.6,458,7.2,490,7.4,478],
  [5.5,470,6.0,490,6.6,500,7.2,512,7.4,518],
  [5.0,462,5.5,498,6.1,505,6.8,515,7.3,510],
  // second group: shorter, crossing rows
  [3.0,420,3.3,432,3.7,462,4.1,440,4.5,462],
  [3.1,425,3.5,420,3.9,458,4.3,432,4.7,455],
  [3.2,420,3.5,448,3.9,432,4.3,465,4.7,448],
  [3.3,430,3.7,440,4.1,425,4.5,440,4.9,472],
  [3.4,420,3.8,432,4.2,462,4.6,445,5.0,458],
  [3.5,440,3.9,425,4.3,448,4.7,468,5.1,450],
  [3.6,432,4.0,450,4.4,428,4.8,458,5.2,482],
  [3.7,420,4.1,460,4.5,445,4.9,430,5.3,462],
  [3.8,428,4.2,435,4.6,460,5.0,478,5.4,455],
  [3.9,440,4.3,420,4.7,452,5.1,442,5.5,472],
  [4.0,425,4.4,442,4.8,435,5.2,465,5.6,480],
  [4.1,438,4.5,432,4.9,468,5.3,455,5.7,470],
  [4.2,420,4.6,458,5.0,448,5.4,470,5.8,488],
  [4.3,445,4.7,430,5.1,472,5.5,482,5.9,465],
  [4.4,430,4.8,462,5.2,442,5.6,468,6.0,482],
  [4.5,420,4.9,448,5.3,478,5.7,462,6.1,490],
  [4.6,442,5.0,435,5.4,452,5.8,478,6.2,468],
  [4.7,432,5.1,468,5.5,458,5.9,485,6.3,492],
  [4.8,450,5.2,478,5.6,472,6.0,462,6.4,488],
  [4.9,430,5.3,448,5.7,482,6.1,475,6.5,470],
  [5.0,445,5.4,465,5.8,452,6.2,490,6.6,498],
  [5.1,425,5.5,458,5.9,478,6.3,468,6.7,485],
  [5.2,438,5.6,445,6.0,468,6.4,482,6.8,475],
  [5.3,460,5.7,475,6.1,488,6.5,462,6.9,495],
  [5.4,436,5.8,468,6.2,460,6.6,492,7.0,488],
  [5.5,428,5.9,450,6.3,485,6.7,478,7.1,500],
  [5.6,452,6.0,480,6.4,472,6.8,498,7.2,490],
  [5.7,465,6.1,460,6.5,490,6.9,482,7.3,502],
  [5.8,448,6.2,478,6.6,465,7.0,492,7.4,485],
  [5.9,440,6.3,492,6.7,488,7.1,478,7.5,495],
  [6.0,462,6.4,468,6.8,485,7.2,498,7.5,480],
  [6.1,470,6.5,485,6.9,470,7.3,492,7.5,510],
  [6.2,455,6.6,478,7.0,502,7.4,488],
  [6.3,482,6.7,495,7.1,485,7.5,478],
  [6.4,470,6.8,462,7.2,498,7.5,490],
  [3.4,420,3.8,420,4.2,445,4.6,425,5.0,445],
  [3.6,420,4.0,438,4.4,420,4.8,440,5.2,468],
  [3.8,420,4.2,420,4.6,438,5.0,420,5.4,445],
  [4.0,420,4.4,420,4.8,448,5.2,432,5.6,465],
  [4.2,420,4.6,432,5.0,420,5.4,440,5.8,475],
  [4.4,420,4.8,420,5.2,425,5.6,452,6.0,458],
  [4.6,420,5.0,430,5.4,420,5.8,462,6.2,480],
  [4.8,420,5.2,420,5.6,448,6.0,445,6.4,472],
  [5.0,420,5.4,432,5.8,440,6.2,458,6.6,478],
];

const ageTicks: number[] = [3, 4, 5, 6, 7, 8];

type PanelProps = {
  letter: string;
  yTitle: string;
  rows: number[][];
  coreFrom: number;
  yMin: number;
  yMax: number;
  yStep: number;
  box: { left: number; top: number; w: number; h: number };
  area: { l: number; t: number; r: number; b: number };
  yTitlePad: number;
  xTitlePad: number;
  letterPos: { left: number; top: number };
};

function Panel(p: PanelProps) {
  const ref = useRef<HTMLCanvasElement>(null);
  useEffect(() => {
    const chart = new Chart(ref.current!, {
      type: "line",
      data: {
        datasets: p.rows.map((row, index) => {
          const pts: { x: number; y: number }[] = [];
          for (let i = 0; i < row.length; i += 2) pts.push({ x: row[i], y: row[i + 1] });
          return { data: pts, borderColor: "#141414", borderWidth: index >= p.coreFrom ? 2 : 1, pointRadius: 0, tension: 0, fill: false };
        }),
      },
      options: {
        animation: false,
        responsive: false,
        events: [],
        layout: { padding: { top: p.area.t, right: p.box.w - p.area.r, left: 0, bottom: 0 } },
        plugins: { legend: { display: false }, tooltip: { enabled: false }, title: { display: false } },
        scales: {
          x: {
            type: "linear",
            min: 2.5,
            max: 8.5,
            afterFit: (s: any) => { s.height = p.box.h - p.area.b; },
            afterBuildTicks: (s: any) => { s.ticks = ageTicks.map((value) => ({ value })); },
            grid: { display: true, drawOnChartArea: false, drawTicks: true, tickLength: 2, color: "#777" },
            border: { display: true, color: "#777", width: 1 },
            ticks: { autoSkip: false, maxRotation: 0, color: "#444", font: { family: "Liberation Sans", size: 7.5 }, padding: 6 },
            title: { display: true, text: "Age", color: "#333", font: { family: "Liberation Sans", size: 8.5 }, padding: { top: 0, bottom: p.xTitlePad } },
          },
          y: {
            type: "linear",
            min: p.yMin,
            max: p.yMax,
            afterFit: (s: any) => { s.width = p.area.l; },
            ticks: { stepSize: p.yStep, color: "#444", font: { family: "Liberation Sans", size: 7.5 }, padding: 3 },
            grid: { display: true, drawOnChartArea: false, drawTicks: true, tickLength: 3, color: "#777" },
            border: { display: true, color: "#777", width: 1 },
            title: { display: true, text: p.yTitle, color: "#333", font: { family: "Liberation Sans", size: 8.5 }, padding: { top: p.yTitlePad, bottom: 0 } },
          },
        },
      },
    } as any);
    return () => chart.destroy();
  }, []);
  return (
    <>
      <canvas
        ref={ref}
        width={p.box.w}
        height={p.box.h}
        style={{ position: "absolute", left: p.box.left, top: p.box.top, width: p.box.w, height: p.box.h }}
      />
      <div
        style={{
          position: "absolute",
          left: p.letterPos.left,
          top: p.letterPos.top,
          font: "16px 'Liberation Serif'",
          lineHeight: "18px",
          color: "#111",
        }}
      >
        {p.letter}
      </div>
    </>
  );
}

export default function App() {
  return (
    <div style={{ position: "fixed", left: 0, top: 0, width: 601, height: 467, background: "#fff", overflow: "hidden" }}>
      <Panel letter="A." yTitle="Letter-Word Identification W-score" rows={letterWord} coreFrom={98} yMin={250} yMax={550} yStep={50}
        box={{ left: 0, top: 0, w: 300, h: 225 }} area={{ l: 42, t: 8, r: 292, b: 183 }} yTitlePad={8} xTitlePad={11} letterPos={{ left: 60, top: 7 }} />
      <Panel letter="B." yTitle="Passage Comprehension W-score" rows={passage} coreFrom={89} yMin={340} yMax={540} yStep={20}
        box={{ left: 300, top: 0, w: 300, h: 225 }} area={{ l: 40, t: 8, r: 288, b: 183 }} yTitlePad={6} xTitlePad={11} letterPos={{ left: 361, top: 12 }} />
      <Panel letter="C." yTitle="Picture Vocabulary W-score" rows={vocabulary} coreFrom={81} yMin={360} yMax={540} yStep={20}
        box={{ left: 0, top: 235, w: 300, h: 232 }} area={{ l: 43, t: 24, r: 294, b: 200 }} yTitlePad={8} xTitlePad={1} letterPos={{ left: 59, top: 256 }} />
      <Panel letter="D." yTitle="Sound Awareness W-score" rows={soundAwareness} coreFrom={88} yMin={400} yMax={540} yStep={20}
        box={{ left: 300, top: 235, w: 300, h: 232 }} area={{ l: 42, t: 24, r: 293, b: 200 }} yTitlePad={7} xTitlePad={1} letterPos={{ left: 361, top: 256 }} />
    </div>
  );
}
